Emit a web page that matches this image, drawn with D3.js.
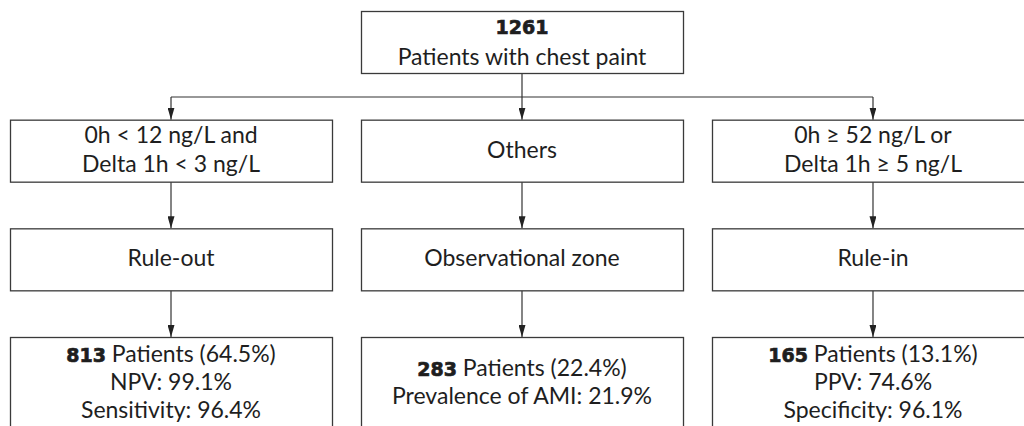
<!DOCTYPE html>
<html lang="en">
<head>
    <meta charset="UTF-8">
    <title>Flowchart</title>
    <script src="https://d3js.org/d3.v7.min.js"></script>
    <style>
        body {margin: 0; background: #fff;}
        text {
            font-family: "Lato", sans-serif;
            font-size: 23px;
            fill: #1e1e1e;
        }
        tspan.num {
            font-family: "DejaVu Sans", sans-serif;
            font-weight: bold;
            font-size: 19px;
            stroke: #1e1e1e;
            stroke-width: 0.7px;
        }
    </style>
</head>
<body>
<script>
    const width = 1024;
    const height = 426;

    // data
    const total = "1261";
    const totalLabel = "Patients with chest paint";
    const criteria = [
        ["0h < 12 ng/L and", "Delta 1h < 3 ng/L"],
        ["Others"],
        ["0h \u2265 52 ng/L or", "Delta 1h \u2265 5 ng/L"]
    ];
    const zones = ["Rule-out", "Observational zone", "Rule-in"];
    const patients = ["813", "283", "165"];
    const shares = ["64.5%", "22.4%", "13.1%"];
    const metrics = [
        ["NPV: 99.1%", "Sensitivity: 96.4%"],
        ["Prevalence of AMI: 21.9%"],
        ["PPV: 74.6%", "Specificity: 96.1%"]
    ];

    const svg = d3.select("body").append("svg")
            .attr("width", width).attr("height", height);

    svg.append("defs").append("marker")
            .attr("id", "arrow")
            .attr("viewBox", "0 0 12 7")
            .attr("refX", 12).attr("refY", 3.5)
            .attr("markerWidth", 12).attr("markerHeight", 7)
            .attr("markerUnits", "userSpaceOnUse")
            .attr("orient", "auto")
            .append("path")
            .attr("d", "M0,0L12,3.5L0,7Z")
            .style("fill", "#222");

    // columns
    const x = d3.scaleBand()
            .domain(d3.range(3))
            .range([10, 1034])
            .paddingInner(0.0826);

    // rows: top box, criteria, zone, result
    const y = d3.scalePoint()
            .domain(["top", "criteria", "zone", "result"])
            .range([11, 337]);

    const boxH = 62;
    const busY = 97;
    const cx = i => x(i) + x.bandwidth() / 2;

    function box(left, top, w, h) {
        svg.append("rect")
                .attr("x", left + 0.5).attr("y", top + 0.5)
                .attr("width", w).attr("height", h)
                .style("fill", "#fff")
                .style("stroke", "#3a3a3a")
                .style("stroke-width", 1.3);
    }

    // lines of text, centered vertically in a box
    function lines(center, top, h, rows, lineH = 28.5) {
        const n = rows.length;
        const first = top + h / 2 - (n - 1) * lineH / 2 + 7;
        const t = svg.append("text").attr("text-anchor", "middle");
        rows.forEach((r, i) => {
            const ts = t.append("tspan").attr("x", center).attr("y", first + i * lineH);
            if (Array.isArray(r)) {
                ts.append("tspan").attr("class", "num").text(r[0]);
                if (r[1]) ts.append("tspan").text(r[1]);
            } else {
                ts.text(r);
            }
        });
    }

    function arrow(x0, y0, y1) {
        svg.append("line")
                .attr("x1", x0).attr("x2", x0)
                .attr("y1", y0).attr("y2", y1)
                .style("stroke", "#333")
                .style("stroke-width", 1.2)
                .attr("marker-end", "url(#arrow)");
    }

    // connectors
    svg.append("line")
            .attr("x1", cx(1)).attr("x2", cx(1))
            .attr("y1", y("top") + boxH).attr("y2", busY)
            .style("stroke", "#333").style("stroke-width", 1.2);
    svg.append("line")
            .attr("x1", cx(0)).attr("x2", cx(2))
            .attr("y1", busY).attr("y2", busY)
            .style("stroke", "#333").style("stroke-width", 1.2);

    d3.range(3).forEach(i => {
        arrow(cx(i), busY, y("criteria"));
        arrow(cx(i), y("criteria") + boxH, y("zone"));
        arrow(cx(i), y("zone") + boxH, y("result"));
    });

    // top box: number on the upper half, label on the lower half
    box(x(1), y("top"), x.bandwidth(), boxH);
    lines(cx(1), y("top"), 32, [[total]]);
    lines(cx(1), y("top") + 31, boxH - 31, [totalLabel]);

    d3.range(3).forEach(i => {
        box(x(i), y("criteria"), x.bandwidth(), boxH);
        lines(cx(i), y("criteria"), boxH, criteria[i]);

        box(x(i), y("zone"), x.bandwidth(), boxH);
        lines(cx(i), y("zone"), boxH, [zones[i]]);

        box(x(i), y("result"), x.bandwidth(), 100);
        const rows = [[patients[i], " Patients (" + shares[i] + ")"]].concat(metrics[i]);
        lines(cx(i), y("result"), 92, rows, 28);
    });
</script>
</body>
</html>
